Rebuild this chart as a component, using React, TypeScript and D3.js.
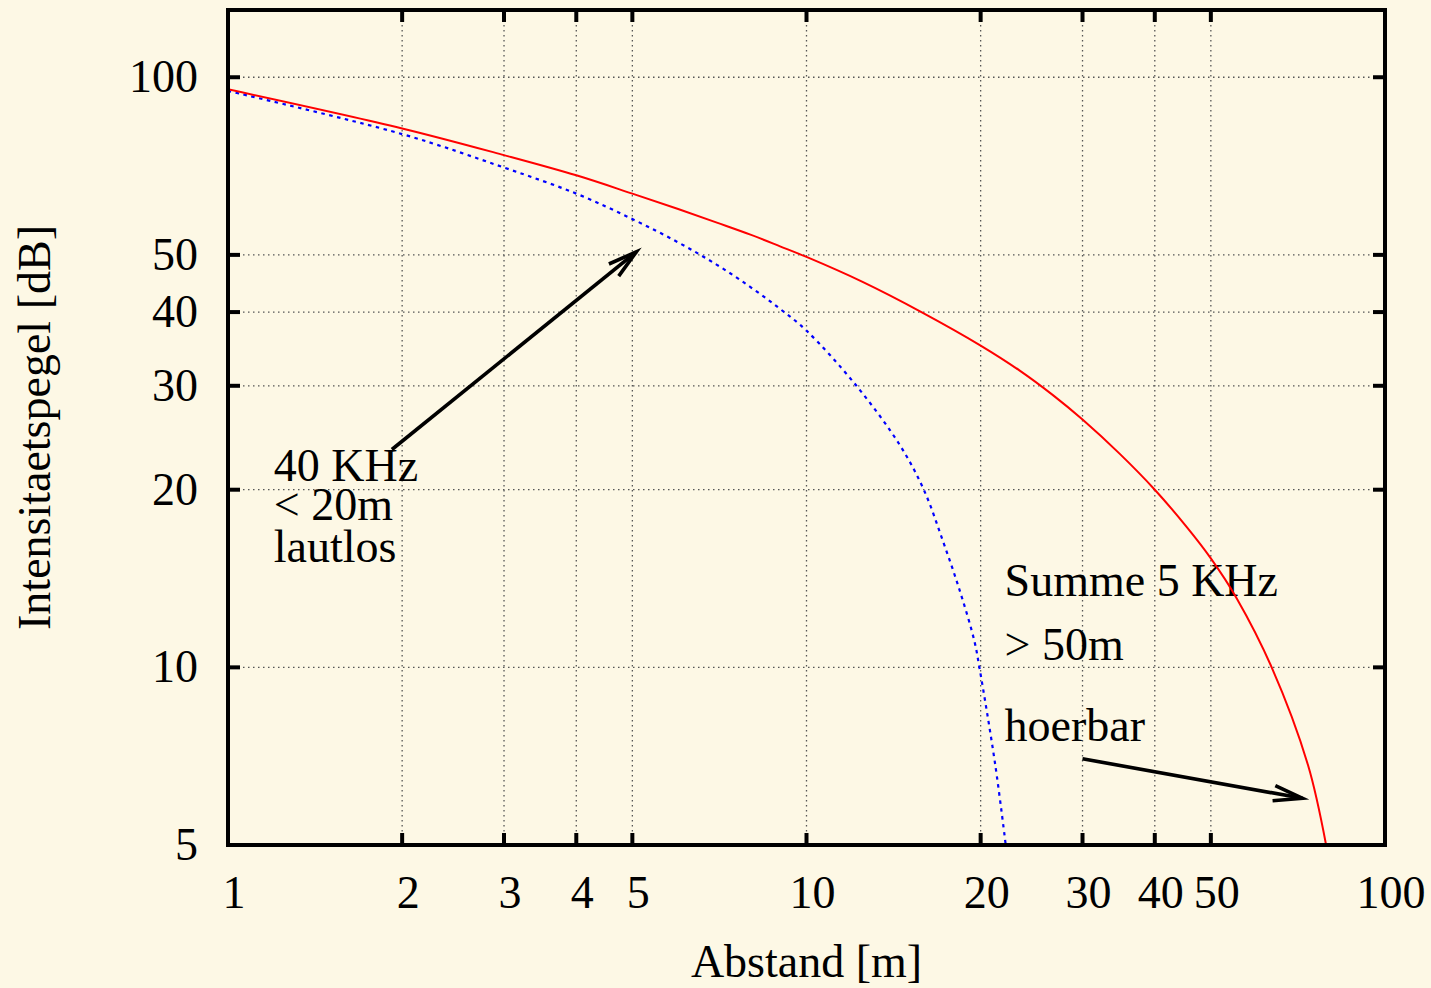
import React, { useEffect, useRef } from 'react';
import * as d3 from 'd3';

// tick values (log axes)
const xTicks = [1, 2, 3, 4, 5, 10, 20, 30, 40, 50, 100];
const yTicks = [5, 10, 20, 30, 40, 50, 100];

// Summe 5 KHz - red solid line
const redX = [1, 2, 3, 4, 5, 6, 7, 8, 9, 10, 12.5, 15.8, 20, 23.4, 26.7, 30, 34.8, 40, 45.4, 50, 55.4, 63.7, 73.6, 79.1];
const redY = [95.4, 81.9, 73.8, 68.2, 63.5, 59.8, 56.7, 54.1, 51.7, 49.6, 45.0, 40, 35.1, 31.8, 28.9, 26.3, 23.0, 20, 17.3, 15.3, 13.1, 10, 6.83, 5];

// 40 KHz - blue dotted line
const blueX = [1, 2, 3, 4, 5, 6, 7, 8, 9, 10, 12.2, 14.5, 15.95, 17.2, 18.4, 19.5, 19.9, 21.2, 22.1];
const blueY = [94.8, 80.1, 70.3, 63.5, 57.5, 52.5, 48.1, 44.1, 40.5, 37.2, 30, 23.8, 20, 16.4, 13.5, 11.1, 10, 6.83, 5];

// labels in data coordinates
const labelText = ['40 KHz', '< 20m', 'lautlos', 'Summe 5 KHz', '> 50m', 'hoerbar'];
const labelX = [1.2, 1.2, 1.2, 22.0, 22.0, 22.0];
const labelY = [20.7, 17.8, 15.1, 13.2, 10.3, 7.5];

// arrows in data coordinates [x1, y1, x2, y2]
const arrows = [
  [1.92, 23.4, 5.08, 50.6],
  [30, 7.0, 72, 6.0],
];

const FONT = '"Liberation Serif", "Times New Roman", serif';

export default function App() {
  const node = useRef<SVGSVGElement>(null);

  useEffect(() => {
    const width = 1431, height = 988;
    const margin = { top: 10, right: 46, bottom: 143, left: 228 };
    const left = margin.left, right = width - margin.right;
    const top = margin.top, bottom = height - margin.bottom;

    const x = d3.scaleLog().domain([1, 100]).range([left, right]);
    const y = d3.scaleLog().domain([5, 130]).range([bottom, top]);

    const svg = d3.select(node.current);
    svg.selectAll('*').remove();

    svg.append('rect')
      .attr('width', width).attr('height', height)
      .attr('fill', '#fdf8e5');

    svg.append('clipPath').attr('id', 'plot-clip')
      .append('rect')
      .attr('x', left).attr('y', top)
      .attr('width', right - left).attr('height', bottom - top);

    // grid
    const grid = svg.append('g')
      .attr('stroke', '#555')
      .attr('stroke-width', 1.3)
      .attr('stroke-dasharray', '1.5,3.5');
    grid.selectAll('.gx').data(xTicks.slice(1, -1)).enter().append('line')
      .attr('x1', d => x(d)).attr('x2', d => x(d))
      .attr('y1', top).attr('y2', bottom);
    grid.selectAll('.gy').data(yTicks.slice(1)).enter().append('line')
      .attr('x1', left).attr('x2', right)
      .attr('y1', d => y(d)).attr('y2', d => y(d));

    // text labels
    svg.append('g')
      .style('font-family', FONT)
      .style('font-size', '46px')
      .attr('fill', '#000')
      .selectAll('text')
      .data(labelText).enter().append('text')
      .attr('x', (d, i) => x(labelX[i]))
      .attr('y', (d, i) => y(labelY[i]))
      .text(d => d);

    // curves
    const line = d3.line<number>()
      .curve(d3.curveCatmullRom.alpha(0.5));

    const plot = svg.append('g').attr('clip-path', 'url(#plot-clip)');

    plot.append('path')
      .attr('d', line.x(d => x(blueX[d])).y(d => y(blueY[d]))(blueX.map((_, i) => i)))
      .attr('fill', 'none')
      .attr('stroke', '#0000ff')
      .attr('stroke-width', 2.2)
      .attr('stroke-dasharray', '3.5,4.5');

    plot.append('path')
      .attr('d', line.x(d => x(redX[d])).y(d => y(redY[d]))(redX.map((_, i) => i)))
      .attr('fill', 'none')
      .attr('stroke', '#ff0000')
      .attr('stroke-width', 2);

    // arrows
    const arrowG = svg.append('g')
      .attr('stroke', '#000')
      .attr('stroke-width', 3.6)
      .attr('fill', 'none')
      .attr('stroke-linecap', 'butt');
    arrows.forEach(a => {
      const x1 = x(a[0]), y1 = y(a[1]), x2 = x(a[2]), y2 = y(a[3]);
      const ang = Math.atan2(y2 - y1, x2 - x1);
      const len = 30, spread = Math.PI / 12;
      arrowG.append('line')
        .attr('x1', x1).attr('y1', y1).attr('x2', x2).attr('y2', y2);
      arrowG.append('path')
        .attr('stroke-linejoin', 'miter')
        .attr('d', 'M' + (x2 - len * Math.cos(ang - spread)) + ',' + (y2 - len * Math.sin(ang - spread)) +
          'L' + x2 + ',' + y2 +
          'L' + (x2 - len * Math.cos(ang + spread)) + ',' + (y2 - len * Math.sin(ang + spread)));
    });

    // ticks (inward, mirrored)
    const tickLen = 12;
    const ticks = svg.append('g').attr('stroke', '#000').attr('stroke-width', 4);
    xTicks.slice(1, -1).forEach(t => {
      ticks.append('line').attr('x1', x(t)).attr('x2', x(t)).attr('y1', bottom).attr('y2', bottom - tickLen);
      ticks.append('line').attr('x1', x(t)).attr('x2', x(t)).attr('y1', top).attr('y2', top + tickLen);
    });
    yTicks.slice(1).forEach(t => {
      ticks.append('line').attr('x1', left).attr('x2', left + tickLen).attr('y1', y(t)).attr('y2', y(t));
      ticks.append('line').attr('x1', right).attr('x2', right - tickLen).attr('y1', y(t)).attr('y2', y(t));
    });

    // frame
    svg.append('rect')
      .attr('x', left).attr('y', top)
      .attr('width', right - left).attr('height', bottom - top)
      .attr('fill', 'none')
      .attr('stroke', '#000')
      .attr('stroke-width', 4);

    // tick labels
    const tl = svg.append('g')
      .style('font-family', FONT)
      .style('font-size', '46px')
      .attr('fill', '#000');
    tl.selectAll('.xl').data(xTicks).enter().append('text')
      .attr('x', d => x(d) + 6)
      .attr('y', bottom + 63)
      .attr('text-anchor', 'middle')
      .text(d => String(d));
    tl.selectAll('.yl').data(yTicks).enter().append('text')
      .attr('x', left - 30)
      .attr('y', d => y(d) + 15)
      .attr('text-anchor', 'end')
      .text(d => String(d));

    // axis titles
    tl.append('text')
      .attr('x', (left + right) / 2)
      .attr('y', 977)
      .attr('text-anchor', 'middle')
      .text('Abstand [m]');
    tl.append('text')
      .attr('transform', 'translate(50,' + (top + bottom) / 2 + ') rotate(-90)')
      .attr('text-anchor', 'middle')
      .text('Intensitaetspegel [dB]');
  }, []);

  return (
    <svg ref={node} width={1431} height={988}
      style={{ position: 'absolute', left: 0, top: 0, display: 'block' }} />
  );
}
